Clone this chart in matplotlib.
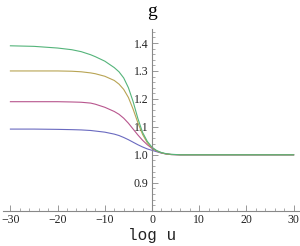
import matplotlib
matplotlib.use("Agg")
import matplotlib.pyplot as plt
from matplotlib.ticker import MultipleLocator, FixedLocator

x = [-30, -25, -20, -17, -15, -13, -12, -10, -8, -7, -6, -5, -4, -3, -2, -1,
     0, 1, 2, 3, 4, 6, 8, 10, 20, 30]

g_blue = [1.092, 1.092, 1.091, 1.090, 1.089, 1.087, 1.085, 1.081, 1.074, 1.069,
          1.062, 1.054, 1.045, 1.036, 1.028, 1.021, 1.016, 1.011, 1.006, 1.003,
          1.001, 1.0, 1.0, 1.0, 1.0, 1.0]
g_red = [1.190, 1.190, 1.190, 1.189, 1.188, 1.185, 1.181, 1.170, 1.155, 1.145,
         1.131, 1.113, 1.092, 1.071, 1.052, 1.036, 1.023, 1.013, 1.007, 1.003,
         1.001, 1.0, 1.0, 1.0, 1.0, 1.0]
g_yellow = [1.300, 1.300, 1.300, 1.299, 1.297, 1.293, 1.290, 1.281, 1.266, 1.253,
            1.234, 1.205, 1.163, 1.115, 1.073, 1.043, 1.025, 1.014, 1.007, 1.003,
            1.001, 1.0, 1.0, 1.0, 1.0, 1.0]
g_green = [1.390, 1.388, 1.382, 1.376, 1.369, 1.358, 1.351, 1.335, 1.312, 1.297,
           1.275, 1.240, 1.190, 1.130, 1.080, 1.048, 1.027, 1.015, 1.008, 1.004,
           1.002, 1.0, 1.0, 1.0, 1.0, 1.0]

series = [g_blue, g_red, g_yellow, g_green]
colors = ["#6a6ac0", "#b8568e", "#b8a454", "#54b47a"]

xticks = [-30, -20, -10, 0, 10, 20, 30]
yticks = [0.9, 1.0, 1.1, 1.2, 1.3, 1.4]

fig = plt.figure(figsize=(3.0, 2.46), dpi=100)
ax = fig.add_axes([0.01, 0.1435, 0.9867, 0.7385])

for ys, c in zip(series, colors):
    ax.plot(x, ys, color=c, lw=0.8)

ax.set_xlim(-31.57, 31.14)
ax.set_ylim(0.8, 1.45)

for s in ("top", "right"):
    ax.spines[s].set_visible(False)
ax.spines["left"].set_position(("data", 0))
ax.spines["bottom"].set_position(("data", 0.8))
for s in ("left", "bottom"):
    ax.spines[s].set_color("#888888")
    ax.spines[s].set_linewidth(0.8)

ax.xaxis.set_major_locator(FixedLocator(xticks))
ax.xaxis.set_minor_locator(MultipleLocator(2))
ax.yaxis.set_major_locator(FixedLocator(yticks))
ax.yaxis.set_minor_locator(MultipleLocator(0.02))
ax.set_xticklabels([f"{v:d}".replace("-", "\u2212") for v in xticks])
ax.set_yticklabels([f"{v:.1f}" for v in yticks])

ax.tick_params(which="major", direction="in", length=4, width=0.6, color="#888888")
ax.tick_params(which="minor", direction="in", length=2, width=0.5, color="#888888")
ax.tick_params(axis="x", pad=2.5)
ax.tick_params(axis="y", pad=2.5)
for lab in ax.get_xticklabels() + ax.get_yticklabels():
    lab.set_fontfamily("Liberation Serif")
    lab.set_fontsize(8.5)
    lab.set_color("#222222")

fig.text(152 / 300, 1 - 16 / 246, "g", ha="center", va="baseline",
         family="Liberation Serif", fontsize=14)
fig.text(152 / 300, 1 - 240 / 246, "log u", ha="center", va="baseline",
         family="Liberation Mono", fontsize=11.5, color="#222222")

fig.savefig("out.png", dpi=100)
